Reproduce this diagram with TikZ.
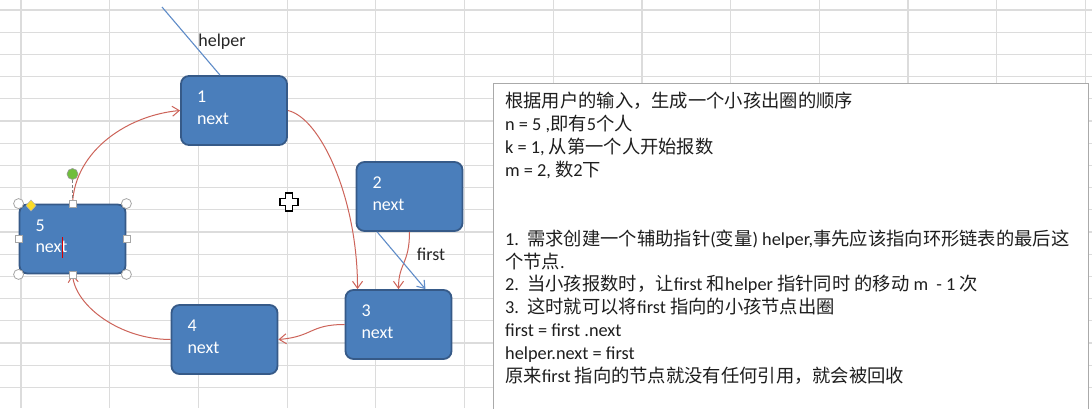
\documentclass[tikz,border=0pt]{standalone}
\usepackage{fontspec}
\setmainfont{Carlito}
\newfontfamily\cjk{Noto Sans CJK SC}
\usetikzlibrary{arrows.meta,calc}
\definecolor{gridc}{RGB}{220,220,220}
\definecolor{boxfill}{RGB}{74,126,187}
\definecolor{boxline}{RGB}{54,90,136}
\definecolor{linkred}{RGB}{205,100,90}
\definecolor{ptrblue}{RGB}{95,140,200}
\definecolor{notetext}{RGB}{30,30,30}
\definecolor{notebord}{RGB}{170,170,170}
\definecolor{rotgreen}{RGB}{112,190,60}
\definecolor{adjyellow}{RGB}{250,220,40}
\begin{document}
\begin{tikzpicture}[x=1pt,y=-1pt,
  listnode/.style={draw=boxline, line width=1.8pt, fill=boxfill, rounded corners=8pt,
    text=white, align=left, text width=74pt, inner xsep=16pt, inner ysep=0pt,
    minimum height=69pt, text depth=27pt, font=\fontsize{18}{21.5}\selectfont},
  link/.style={draw=linkred, line width=1pt, -{Straight Barb[length=7pt,width=10pt]}},
  ptr/.style={draw=ptrblue, line width=1.1pt},
  ptrlabel/.style={text=black!85, font=\fontsize{18}{20}\selectfont, inner sep=0pt},
  noteline/.style={anchor=base west, inner sep=0pt, text=notetext, font=\fontsize{18.3}{22.9}\selectfont},
  handle/.style={draw=gray!70, fill=white, line width=0.8pt},
]
\useasboundingbox (0,0) rectangle (1092,408);
\fill[white] (0,0) rectangle (1092,408);
% spreadsheet grid
\foreach \i in {0,...,12} \draw[gridc, line width=1.2pt] ({21+88.7*\i},0) -- ({21+88.7*\i},408);
\foreach \j in {0,...,17} \draw[gridc, line width=1.2pt] (0,{10+22.2*\j}) -- (1092,{10+22.2*\j});

% text box
\filldraw[fill=white, draw=notebord, line width=1pt] (493,83) rectangle (1088,416);
\node[noteline] (l1) at (505,107.7) {\cjk 根据用户的输入，生成一个小孩出圈的顺序};
\node[noteline] (l2) at (505,130.6) {n = 5 ,{\cjk 即有}5{\cjk 个人}};
\node[noteline] (l3) at (505,153.5) {k = 1, {\cjk 从第一个人开始报数}};
\node[noteline] (l4) at (505,176.4) {m = 2, {\cjk 数}2{\cjk 下}};
\node[noteline] (l5) at (505,245.1) {1.\ \ {\cjk 需求创建一个辅助指针}({\cjk 变量}) helper,{\cjk 事先应该指向环形链表的最后这}};
\node[noteline] (l6) at (505,268.0) {{\cjk 个节点}.};
\node[noteline] (l7) at (505,290.9) {2.\ \ {\cjk 当小孩报数时，让}first {\cjk 和}helper {\cjk 指针同时} {\cjk 的移动} m\ \ - 1 {\cjk 次}};
\node[noteline] (l8) at (505,313.8) {3.\ \ {\cjk 这时就可以将}first {\cjk 指向的小孩节点出圈}};
\node[noteline] (l9) at (505,336.7) {first = first .next};
\node[noteline] (l10) at (505,359.6) {helper.next = first};
\node[noteline] (l11) at (505,382.5) {{\cjk 原来}first {\cjk 指向的节点就没有任何引用，就会被回收}};

% list nodes
\node[listnode] (n1) at (234,110.5) {1\\next};
\node[listnode] (n2) at (409.5,196.5) {2\\next};
\node[listnode] (n3) at (398.5,324.5) {3\\next};
\node[listnode] (n4) at (224.5,339.5) {4\\next};
\node[listnode] (n5) at (72.5,239) {5\\next};

% helper pointer
\coordinate (hstart) at (162,7);
\draw[ptr] (hstart) -- ($(n1.north west)!0.37!(n1.north east)$);
\node[ptrlabel] (hlab) at (222,42) {helper};

% circular links
\draw[link] (n5.north) .. controls +(2.5,-54) and +(-51,4.5) .. (n1.west);
\draw[link] (n1.east) .. controls +(33,7.5) and +(0,-90) .. ($(n3.north west)!0.12!(n3.north east)$);
\draw[link] (n3.west) .. controls +(-35,0) and +(35,-3) .. (n4.east);
\draw[link] (n4.west) .. controls +(-50,0) and +(3,32) .. (n5.south);

% first pointer
\draw[link] (n2.south) .. controls +(0,32) and +(0,-26) .. (n3.north);
\draw[ptr, -{Straight Barb[length=7pt,width=10pt]}] ($(n2.south west)!0.2!(n2.south east)$) -- ($(n3.north west)!0.75!(n3.north east)$);
\node[ptrlabel] (flab) at (431,254) {first};

% selection handles on node 5
\draw[gray, densely dashed, line width=0.8pt] (72.5,180) -- (n5.north);
\filldraw[fill=rotgreen, draw=gray!80, line width=0.6pt] (72.5,174) circle (5.5pt);
\foreach \a in {north west, north east, south west, south east} \draw[handle] (n5.\a) circle (5pt);
\foreach \a in {north, south, east, west} \draw[handle] ($(n5.\a)+(-3.5,-3.5)$) rectangle +(7,7);
\filldraw[fill=adjyellow, draw=gray!60, line width=0.5pt] (31,200) -- (36,205.5) -- (31,211) -- (26,205.5) -- cycle;
\draw[red!85!black, line width=0.9pt] (62,237) -- (62,258);

% mouse cursor
\filldraw[fill=white, draw=black, line width=1.2pt]
  (285.5,193) -- (292.5,193) -- (292.5,198.5) -- (298,198.5) -- (298,205.5) -- (292.5,205.5)
  -- (292.5,211) -- (285.5,211) -- (285.5,205.5) -- (280,205.5) -- (280,198.5) -- (285.5,198.5) -- cycle;
\end{tikzpicture}
\end{document}
